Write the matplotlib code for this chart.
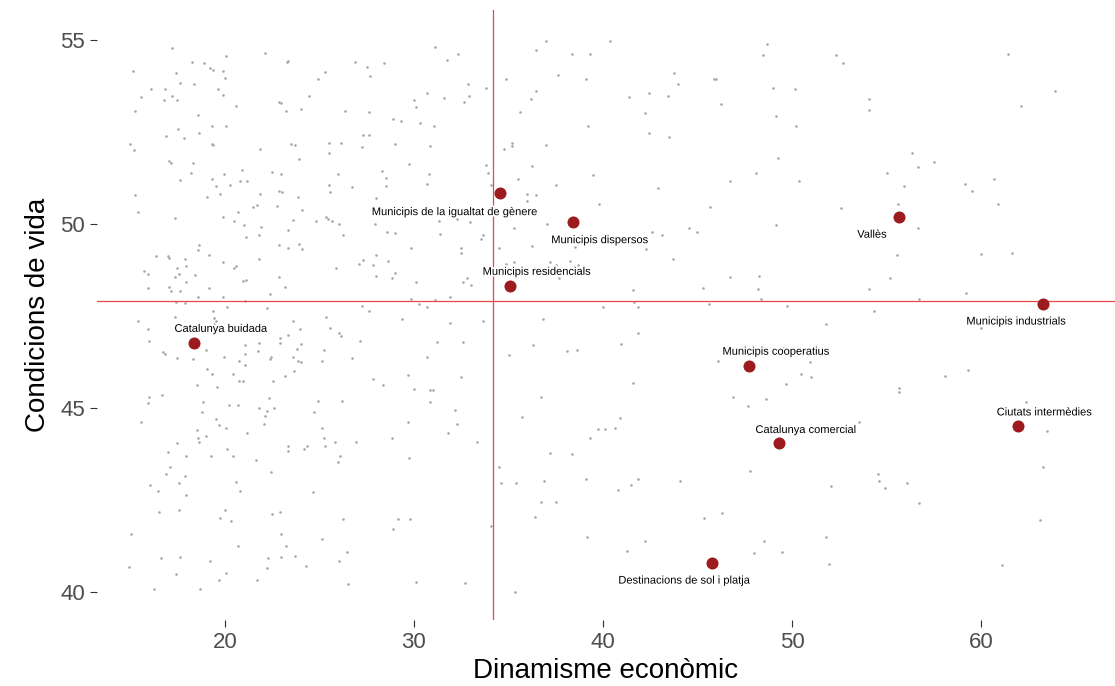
import matplotlib.pyplot as plt
import matplotlib.patheffects as pe

plt.rcParams['font.family'] = ['Liberation Sans', 'DejaVu Sans']

# municipis (punts grisos de fons)
bg_x = [
    17.22, 22.12, 20.07, 15.12, 18.27, 18.89, 19.19, 19.39, 19.88, 23.28, 23.35, 25.28, 24.91, 17.41, 20.00,
    17.64, 18.38, 16.10, 16.85, 19.63, 15.54, 17.22, 19.88, 16.79, 17.46, 24.46, 22.86, 22.98, 20.57, 15.24,
    23.23, 24.04, 26.33, 18.59, 19.31, 20.07, 17.53, 18.64, 16.90, 17.85, 14.99, 15.17, 19.31, 19.39, 21.87,
    23.48, 23.72, 25.52, 26.14, 25.52, 23.92, 17.02, 17.15, 18.33, 20.92, 18.22, 19.93, 22.49, 22.98, 25.96,
    17.64, 19.31, 20.81, 21.18, 19.51, 20.25, 25.52, 26.70, 22.86, 23.04, 25.58, 15.22, 19.07, 19.76, 21.87,
    23.85, 21.48, 21.68, 22.74, 15.40, 20.69, 24.09,
    31.11, 36.98, 26.90, 27.51, 28.43, 31.73, 32.35, 36.44, 38.36, 39.29, 27.69, 37.62, 34.89, 39.12, 32.84,
    33.83, 30.67, 36.44, 29.98, 31.59, 32.91, 32.66, 36.19, 30.11, 27.64, 35.63, 28.87, 29.31, 30.30, 31.04,
    39.22, 27.32, 27.64, 27.27, 29.00, 30.85, 34.76, 35.20, 35.20, 37.00, 29.75, 33.83, 36.24, 28.32, 30.81,
    33.90, 39.47, 28.50, 35.52, 28.50, 30.67, 34.09, 37.50, 27.99, 36.00, 36.44, 36.00, 39.79,
    40.35, 48.66, 48.48, 52.33, 52.70, 43.77, 43.95, 45.89, 45.99, 42.45, 41.39, 43.46, 46.24, 48.98, 50.16,
    42.20, 49.17, 50.21, 42.45, 43.51, 49.28, 48.09, 46.74, 50.39, 42.89, 45.68, 52.57,
    61.42, 63.91, 62.11, 54.05, 54.05, 56.35, 57.53, 56.66, 55.04, 55.90, 59.13, 59.52, 60.70, 55.60, 60.88,
    17.34, 19.88, 20.50, 20.99, 21.93, 23.60, 24.83, 25.35, 25.47, 25.66, 26.03, 23.35, 21.11, 21.80, 26.26,
    18.64, 18.59, 22.86, 23.35, 23.92, 24.09, 16.35, 16.97, 17.04, 17.89, 19.14, 21.80, 19.88, 17.96, 17.46,
    20.50, 20.57, 25.89, 15.72, 15.91, 17.59, 17.34, 18.40, 22.86, 20.94, 21.11, 17.96, 15.91, 17.04, 17.16,
    17.64, 19.14, 23.18, 22.37, 18.59, 19.88, 17.41, 17.90, 21.06, 20.13, 22.24, 19.39, 17.34, 19.44, 19.51,
    19.44, 15.42, 23.60, 25.35, 15.91, 23.97, 25.58, 26.03, 26.16, 23.35, 22.91, 15.96, 21.80, 22.91, 24.04,
    21.06, 16.72, 16.83, 19.02, 21.75, 23.79, 25.22, 21.06, 17.46, 18.33, 19.93, 20.74, 22.42, 22.37, 23.60,
    23.85, 24.04, 25.15, 26.70, 21.06, 19.07, 19.31, 20.44, 23.67, 23.18, 20.74, 20.94, 22.54, 18.52, 19.56,
    15.96, 15.91, 16.65, 22.35, 18.82, 20.20, 20.69, 21.80, 22.61, 22.24, 24.91, 26.21, 18.77, 22.12, 24.73,
    19.51,
    27.94, 31.34, 32.29, 32.96, 28.55, 29.00, 31.39, 35.31, 37.06, 33.65, 33.53, 29.86, 32.47, 32.47, 34.52,
    36.24, 38.54, 28.01, 27.32, 27.07, 27.81, 28.62, 34.89, 35.31, 37.18, 37.50, 38.24, 38.68, 28.01, 29.00,
    28.82, 37.69, 30.12, 32.79, 32.59, 33.03, 29.86, 30.25, 30.67, 31.11, 31.91, 27.25, 27.64, 39.98, 29.37,
    31.92, 33.65, 36.81, 27.14, 31.24, 32.59, 36.31, 30.67, 35.01, 38.11, 38.62, 27.81, 28.38, 29.68, 32.47,
    29.98, 30.85, 30.99, 30.86, 36.74, 32.17, 35.70,
    42.59, 43.14, 44.57, 44.99, 49.17, 42.29, 43.70, 46.74, 48.23, 45.31, 48.18, 41.59, 48.36, 41.66, 41.83,
    45.62, 49.72, 51.81, 41.83, 40.97, 49.52, 50.40, 46.10, 50.95, 50.46, 51.02, 49.66, 41.59, 46.86, 48.61,
    47.67, 40.92,
    56.66, 55.55, 60.01, 61.62, 55.16, 54.05, 59.22, 56.73, 54.32, 60.01, 59.33, 58.09, 55.66, 55.66, 62.36,
    15.54, 19.70, 20.07, 22.05, 25.15, 18.52, 19.01, 21.18, 18.59, 18.64, 17.46, 25.22, 25.84, 23.35, 23.35,
    24.34, 24.17, 25.28, 20.13, 16.97, 17.96, 19.26, 20.44, 26.09, 25.96, 21.63, 17.09, 16.90, 17.90, 22.42,
    17.59, 20.57, 16.03, 16.48, 17.96, 20.81, 24.66, 16.53, 17.59, 20.00, 22.91, 22.49, 19.76, 20.32, 26.26,
    15.05, 22.98, 25.15, 20.69, 23.23, 26.46, 16.60, 17.64, 22.30, 22.98, 23.72, 19.19, 26.03, 14.92, 22.24,
    24.29, 17.41, 20.07, 19.70, 21.68, 26.53, 16.23, 18.70,
    29.68, 32.29, 31.80, 26.95, 28.82, 33.35, 29.75, 39.74, 40.11, 39.29, 37.20, 38.36, 34.52, 34.59, 35.40,
    36.88, 39.12, 36.70, 37.50, 36.39, 29.17, 29.81, 28.87, 34.09, 39.17, 30.12, 32.72, 35.33,
    40.65, 47.79, 41.83, 41.46, 40.79, 44.07, 52.06, 46.29, 45.36, 42.20, 41.29, 48.53, 47.99, 49.47, 51.81,
    51.97, 53.56,
    63.49, 63.29, 54.55, 54.62, 54.92, 56.10, 56.73, 63.12, 61.13,
]
bg_y = [
    54.78, 54.66, 54.57, 54.15, 54.40, 54.37, 54.25, 54.19, 54.15, 54.41, 54.44, 54.12, 53.93, 54.09, 53.96,
    53.83, 53.80, 53.67, 53.67, 53.67, 53.45, 53.48, 53.51, 53.36, 53.36, 53.48, 53.32, 53.30, 53.20, 53.07,
    53.07, 53.13, 53.07, 52.97, 52.65, 52.65, 52.59, 52.46, 52.40, 52.34, 52.17, 52.02, 52.17, 52.15, 52.05,
    52.17, 52.15, 52.21, 52.21, 51.92, 51.77, 51.70, 51.67, 51.67, 51.48, 51.38, 51.35, 51.41, 51.35, 51.35,
    51.19, 51.22, 51.16, 51.16, 51.03, 51.06, 51.06, 51.00, 50.91, 50.87, 50.87, 50.78, 50.74, 50.81, 50.81,
    50.74, 50.45, 50.51, 50.49, 50.33, 50.33, 50.39,
    54.82, 54.98, 54.40, 54.27, 54.38, 54.47, 54.63, 54.72, 54.63, 54.63, 54.02, 54.06, 53.93, 53.93, 53.80,
    53.70, 53.55, 53.61, 53.36, 53.42, 53.49, 53.32, 53.39, 53.17, 53.04, 53.04, 52.85, 52.79, 52.75, 52.66,
    52.66, 52.43, 52.43, 52.09, 52.17, 52.11, 52.05, 52.21, 52.11, 52.15, 51.64, 51.60, 51.58, 51.44, 51.35,
    51.38, 51.32, 51.25, 51.22, 51.03, 51.10, 51.06, 51.06, 50.71, 50.81, 50.78, 50.62, 50.55,
    54.97, 54.88, 54.59, 54.59, 54.38, 54.09, 53.80, 53.93, 53.93, 53.55, 53.45, 53.48, 53.26, 53.70, 53.67,
    53.03, 52.93, 52.65, 52.46, 52.36, 51.79, 51.38, 51.16, 51.16, 50.97, 50.45, 50.43,
    54.63, 53.61, 53.20, 53.41, 53.10, 51.92, 51.69, 51.54, 51.38, 51.02, 51.10, 50.90, 51.21, 50.55, 50.55,
    50.17, 50.20, 50.07, 49.98, 49.91, 50.10, 50.07, 50.20, 50.14, 50.07, 50.01, 49.85, 49.66, 49.69, 49.69,
    49.44, 49.29, 49.44, 49.34, 49.47, 49.31, 49.12, 49.12, 49.09, 49.06, 49.15, 49.06, 48.96, 48.87, 48.81,
    48.81, 48.87, 48.81, 48.71, 48.64, 48.64, 48.55, 48.61, 48.55, 48.45, 48.49, 48.42, 48.26, 48.30, 48.17,
    48.17, 48.26, 48.30, 48.11, 48.01, 48.01, 47.88, 47.85, 47.90, 47.75, 47.72, 47.65, 47.46, 47.44, 47.37,
    47.27, 47.37, 47.37, 47.46, 47.15, 47.15, 47.17, 47.05, 46.95, 46.98, 46.89, 46.83, 46.77, 46.77, 46.73,
    46.70, 46.51, 46.48, 46.58, 46.54, 46.60, 46.58, 46.48, 46.35, 46.32, 46.39, 46.29, 46.39, 46.32, 46.39,
    46.29, 46.26, 46.29, 46.35, 46.16, 46.06, 45.93, 45.93, 46.00, 45.87, 45.74, 45.74, 45.74, 45.62, 45.58,
    45.30, 45.14, 45.36, 45.26, 45.16, 45.07, 45.07, 45.01, 45.01, 44.92, 45.20, 45.20, 44.88, 44.79, 44.88,
    44.69,
    50.01, 50.07, 50.14, 50.05, 49.79, 49.76, 49.72, 49.88, 50.01, 49.69, 49.59, 49.34, 49.34, 49.21, 49.34,
    49.40, 49.37, 49.15, 49.02, 48.92, 48.90, 48.99, 48.92, 48.96, 48.96, 48.90, 48.99, 48.90, 48.58, 48.67,
    48.52, 48.52, 48.42, 48.54, 48.42, 48.35, 47.97, 47.84, 47.75, 47.94, 48.03, 47.78, 47.63, 47.75, 47.43,
    47.30, 47.37, 47.43, 46.82, 46.79, 46.79, 46.70, 46.38, 46.44, 46.54, 46.58, 45.78, 45.62, 45.91, 45.84,
    45.53, 45.49, 45.49, 45.17, 45.30, 44.96, 44.76,
    49.79, 49.69, 49.88, 49.79, 49.98, 49.31, 49.06, 48.55, 48.58, 48.26, 48.23, 48.20, 47.97, 47.88, 47.75,
    47.84, 47.78, 47.27, 47.05, 46.73, 46.64, 46.64, 46.29, 46.26, 45.93, 45.84, 45.65, 45.68, 45.30, 45.24,
    45.05, 44.72,
    49.88, 49.15, 49.19, 49.21, 48.52, 48.23, 48.13, 47.97, 47.65, 47.17, 46.03, 45.87, 45.55, 45.43, 45.16,
    44.62, 44.53, 44.47, 44.56, 44.47, 44.40, 44.25, 44.31, 44.18, 44.09, 44.05, 44.18, 44.09, 43.96, 43.83,
    43.96, 43.90, 43.96, 43.90, 43.80, 43.70, 43.70, 43.70, 43.70, 43.54, 43.58, 43.39, 43.22, 43.16, 43.25,
    42.97, 43.00, 42.91, 42.74, 42.65, 42.74, 42.72, 42.17, 42.24, 42.24, 42.17, 42.11, 42.01, 41.92, 41.98,
    41.59, 41.57, 41.44, 41.25, 41.25, 41.09, 40.93, 40.96, 40.93, 40.96, 40.99, 40.83, 40.83, 40.68, 40.64,
    40.71, 40.48, 40.52, 40.33, 40.33, 40.23, 40.07, 40.07,
    44.63, 44.57, 44.31, 44.09, 44.18, 44.09, 43.64, 44.44, 44.44, 44.18, 43.77, 43.74, 43.39, 42.97, 42.97,
    43.01, 43.06, 42.46, 42.46, 42.05, 41.98, 41.98, 41.70, 41.79, 41.50, 40.26, 40.24, 40.01,
    44.47, 43.29, 43.06, 42.91, 42.78, 43.03, 42.88, 42.14, 42.01, 41.38, 41.12, 41.38, 41.06, 41.10, 41.50,
    40.75, 44.63,
    44.37, 43.39, 43.20, 43.01, 42.84, 42.97, 42.43, 41.95, 40.74,
]

# tipologies (punts vermells)
groups = ["Catalunya buidada", "Municipis de la igualtat de gènere", "Municipis dispersos",
          "Municipis residencials", "Vallès", "Municipis industrials", "Municipis cooperatius",
          "Catalunya comercial", "Ciutats intermèdies", "Destinacions de sol i platja"]
group_x = [18.38, 34.57, 38.41, 35.08, 55.66, 63.30, 47.74, 49.33, 61.94, 45.75]
group_y = [46.77, 50.84, 50.05, 48.32, 50.20, 47.84, 46.15, 44.05, 44.50, 40.80]
label_dx = [27, -45, 27, 27, -27, -27, 27, 27, 27, -27]
label_dy = [14, -19, -18, 14, -18, -18, 14, 13, 14, -18]

mean_x = 34.16
mean_y = 47.92

fig = plt.figure(figsize=(11.15, 6.86), dpi=100)
ax = fig.add_axes([0.087, 0.0962, 0.913, 0.8892])

ax.scatter(bg_x, bg_y, s=3.5, color="#A6A6A6", linewidths=0, zorder=1)
ax.axvline(mean_x, color="#E8474B", lw=0.9, zorder=2)
ax.axhline(mean_y, color="#E8474B", lw=0.9, zorder=2)
ax.scatter(group_x, group_y, s=75, color="#9B1B1E", linewidths=0, zorder=3)

for name, x, y, dx, dy in zip(groups, group_x, group_y, label_dx, label_dy):
    ax.annotate(name, (x, y), xytext=(dx, dy), textcoords="offset pixels",
                ha="center", va="center", fontsize=8, color="black", zorder=4,
                path_effects=[pe.withStroke(linewidth=2.5, foreground="white")])

ax.set_xlim(13.23, 67.09)
ax.set_ylim(39.24, 55.815)
ax.set_xticks([20, 30, 40, 50, 60])
ax.set_yticks([40, 45, 50, 55])
for s in ax.spines.values():
    s.set_visible(False)
ax.tick_params(axis="both", labelsize=16, labelcolor="#4D4D4D", color="#333333", length=5, width=0.8)
ax.set_xlabel("Dinamisme econòmic", fontsize=20, labelpad=4)
ax.set_ylabel("Condicions de vida", fontsize=20, labelpad=7)

fig.savefig("out.png", dpi=100)
